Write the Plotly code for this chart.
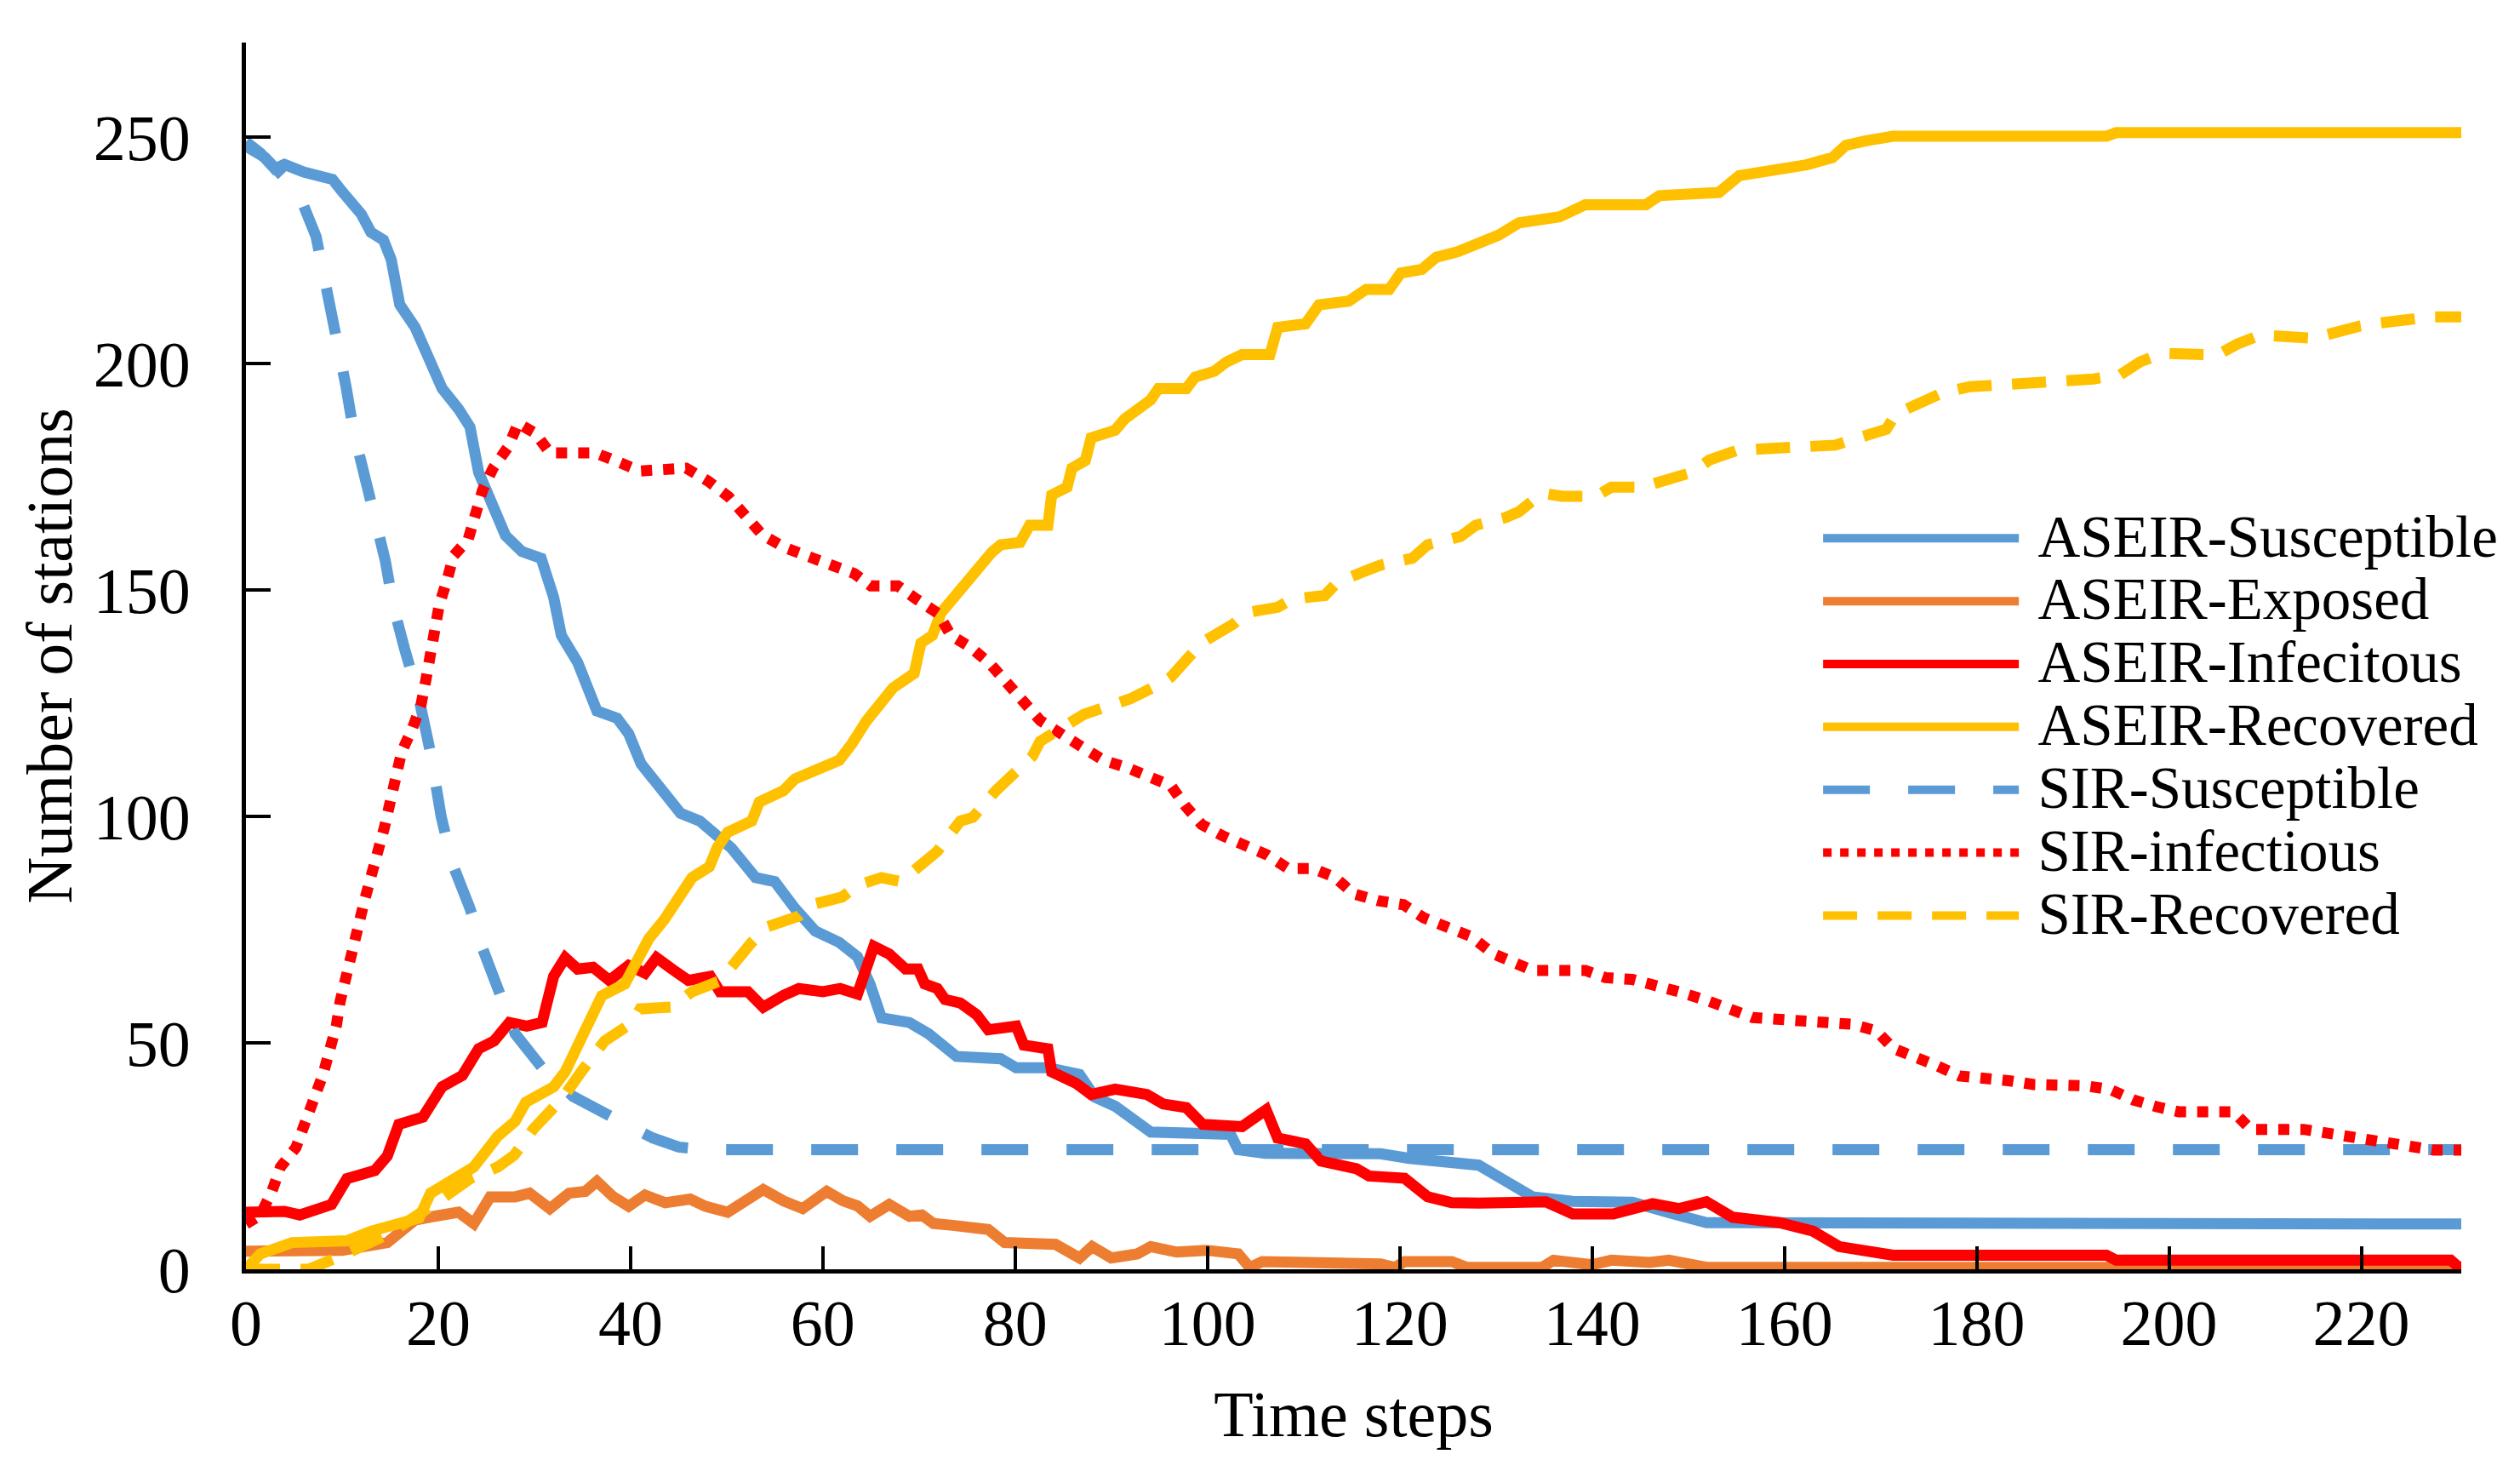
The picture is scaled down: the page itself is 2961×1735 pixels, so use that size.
import plotly.graph_objects as go

# time steps / values
aseir_s_t = [0, 1.5, 3, 4, 6, 9, 10, 12, 13, 14.3, 15.1, 16, 17.6, 19.2, 20.4, 22.1, 23.3, 24.2,
             25.4, 27, 28.7, 30.7, 32, 32.8, 34.5, 35.7, 36.5, 38.6, 39.8, 41.1, 43.1, 45.2, 47.2,
             48.5, 50.5, 53, 55, 57.1, 59.2, 61.7, 63.6, 64.9, 66.1, 69, 71, 73.9, 78.5, 80.1,
             83.4, 86.7, 88.3, 90.4, 92.5, 94.1, 102.4, 103.2, 106, 110, 118, 121, 124, 128.2,
             131, 133.8, 138, 144.2, 148, 151.9, 230.4]
aseir_s_v = [249, 246.5, 243, 244, 242.3, 240.7, 238, 233, 229, 227.3, 223, 213, 208, 200, 194.5,
             190, 186, 176, 169.4, 162, 158.5, 157, 148.4, 140, 134, 127.5, 123.3, 121.7, 118.3,
             111.6, 106.6, 100.7, 99, 96.5, 93, 86.5, 85.6, 79.7, 74.7, 72.2, 69, 63, 55.5, 54.5,
             52, 47, 46.5, 44.5, 44.5, 43, 38, 36, 32.7, 30.3, 29.8, 26.4, 25.6, 25.5, 25.5, 24.5,
             24, 23, 19.5, 16, 15, 14.8, 12.5, 10.3, 10]

aseir_e_t = [0, 10, 14.7, 17.6, 19.6, 22.1, 23.7, 25.4, 28, 29.5, 31.6, 33.6, 35.3, 36.5, 38.2,
             39.8, 41.5, 43.6, 46.2, 47.8, 50.1, 51.8, 53.8, 55.9, 57.9, 60.4, 62.1, 63.6, 64.9,
             66.9, 69, 70.3, 71.5, 73.5, 77.2, 78.9, 84.2, 86.7, 88, 90, 92.7, 94.1, 96.8, 99.9,
             103.2, 104.4, 105.7, 118, 119.5, 120.5, 125.4, 127, 134.8, 136, 140, 142, 146, 148,
             152, 230.4]
aseir_e_v = [4, 4.2, 5.9, 10.9, 11.7, 12.6, 10.1, 16, 16, 16.8, 13.4, 16.8, 17.2, 19.4, 16, 13.9,
             16.4, 14.7, 15.5, 13.9, 12.6, 15.1, 17.6, 15.1, 13.4, 17.2, 15.1, 14, 11.7, 14.3,
             11.7, 12, 10.1, 9.7, 8.8, 5.9, 5.5, 2.5, 5, 2.5, 3.4, 5, 3.8, 4.2, 3.4, 0.4, 1.7,
             1.2, 0.4, 1.7, 1.7, 0.4, 0.4, 2, 1, 2, 1.5, 2, 0.4, 0.4]

aseir_i_t = [0, 4, 5.6, 8.9, 10.5, 13.4, 14.7, 15.9, 18.4, 19.6, 20.4, 22.5, 24.2, 25.8, 27.4,
             29.2, 30.8, 32, 33.2, 34.5, 36.1, 37.8, 39.8, 41.5, 42.7, 44.3, 46, 48.3, 49.3, 52.2,
             53.8, 55.9, 57.5, 60, 61.8, 63.6, 65.3, 66.9, 68.6, 69.9, 70.6, 71.9, 72.7, 74.3, 76,
             77.2, 80.1, 80.9, 83.4, 83.8, 86.3, 87.9, 90.4, 93.7, 95.4, 97.8, 99.5, 103.6, 106.1,
             107.3, 110.2, 111.8, 115.5, 116.8, 120.5, 122.9, 125.4, 128.2, 135.2, 138, 142.2,
             146.3, 149, 151.9, 154.6, 159.5, 163, 165.7, 168.5, 171.3, 193.5, 194.5, 229.3, 230.4]
aseir_i_v = [12.6, 12.8, 12, 14.3, 20, 21.8, 25, 32, 33.6, 37.8, 40.3, 42.8, 48.7, 50.4, 54.5,
             53.7, 54.5, 64.7, 68.8, 66.3, 66.7, 63.8, 67.1, 65.4, 68.8, 66.3, 63.8, 64.7, 61.3,
             61.3, 57.9, 60.5, 62, 61.3, 62, 60.8, 71.3, 69.6, 66.3, 66.3, 63, 62, 59.6, 58.8,
             56.2, 52.9, 53.7, 49.5, 48.7, 43.6, 41.1, 38.6, 39.8, 38.6, 36.5, 35.7, 32, 31.5,
             35.2, 29, 27.7, 23.9, 22.2, 20.6, 20.1, 16, 14.7, 14.6, 14.9, 12.2, 12.2, 14.5,
             13.4, 14.9, 11.5, 10.3, 8.4, 5, 3.9, 3.1, 3.1, 2, 2, 0]

aseir_r_t = [0, 1.5, 4.8, 10.5, 13, 15.9, 18, 19.2, 21.3, 23.7, 26.2, 28, 29.1, 32, 33.2, 34.5,
             36.1, 37, 39.4, 40.6, 41.9, 43.5, 45.2, 46.4, 48.2, 49, 50.1, 52.6, 53.4, 55.9, 57.1,
             59.6, 61.7, 63, 64.5, 67.3, 69.5, 70.2, 71.4, 72.3, 73.9, 75.6, 77.6, 78.5, 80.5,
             81.5, 83.4, 83.8, 85.4, 85.9, 87.3, 87.9, 90.4, 91.4, 92.9, 94.1, 94.9, 97.8, 98.7,
             100.7, 102, 103.6, 106.5, 107.3, 110.2, 111.6, 114.7, 116.5, 118.9, 120.1, 122.3,
             123.8, 126, 128.2, 130.3, 132.4, 136.6, 139.3, 145.6, 147, 153.2, 155.3, 158.8,
             162.3, 165, 166.4, 168.5, 171.3, 193.5, 194.5, 230.4]
aseir_r_v = [0, 3.4, 5.9, 6.3, 8.4, 10.1, 11.3, 16.8, 19.4, 22.6, 29.4, 32.7, 36.9, 40.3, 43.6,
             49.5, 56.2, 60.4, 63, 68, 73, 77.2, 83.1, 86.5, 88.9, 93.1, 96.5, 99, 103.2, 105.7,
             108.3, 110.8, 112.4, 116, 121, 128.4, 131.6, 138.3, 140, 145, 149.2, 153.4, 158.4,
             160, 160.5, 164.3, 164.3, 171, 172.7, 176.9, 178.6, 183.6, 185.3, 187.8, 190.3, 192,
             194.5, 194.5, 197, 198.3, 200.4, 202, 202, 208, 208.8, 213, 213.8, 216.4, 216.4,
             220, 220.8, 223.5, 224.7, 226.5, 228.4, 231.1, 232.4, 235.1, 235.1, 237.1, 237.8,
             241.5, 242.5, 243.9, 245.5, 248.2, 249.2, 250.2, 250.2, 251, 251]

sir_s_t = [0, 2, 4, 5.6, 7.3, 8.7, 9.5, 10.4, 11.2, 12.4, 13.4, 14.5, 15.3, 16.5, 18, 19.2, 20.3,
           21.5, 23.3, 24.6, 26.2, 28, 30.8, 34, 38.1, 42.3, 45, 48, 230.4]
sir_s_v = [248, 245.5, 241, 237, 228, 214, 204.6, 195, 185, 175.6, 166, 156.4, 146.7, 137, 126,
           114, 100, 89.4, 79.7, 70.9, 61.3, 52, 44.5, 38.2, 33.6, 29, 27, 26.4, 26.4]

sir_i_t = [0, 1.5, 2.7, 3.6, 5.2, 6.2, 7.1, 8, 8.7, 9.4, 9.8, 10.5, 11.1, 11.7, 12.3, 13.1, 13.9,
           14.4, 15, 15.5, 16.2, 17.3, 18.2, 18.7, 19.2, 19.6, 20.1, 20.9, 21.6, 23.1, 23.8, 24.6,
           25.7, 27.3, 28.3, 30.1, 31.6, 36.3, 38.6, 41, 45.8, 48.1, 50.2, 52, 53.7, 56, 58.4,
           60.8, 63.3, 65, 67.8, 69.8, 72, 73.3, 75.4, 77.4, 78.9, 80.9, 82.6, 86.9, 89.2, 91.6,
           93.9, 96.2, 97.7, 99.4, 101.6, 103.9, 106.2, 108.4, 111, 113.3, 115.2, 117.7, 120.4,
           122.5, 124.9, 127.4, 129.7, 133.8, 139.3, 141.4, 144.2, 146.7, 149, 151.9, 154.5,
           156.7, 167.1, 169.6, 171.3, 173.8, 175.8, 178.2, 181, 183.5, 185.9, 191.4, 193.9,
           196.3, 198.7, 201, 206.7, 208.5, 214, 216.5, 218.9, 221.3, 224, 227.6, 230.4]
sir_i_v = [10, 12, 17.2, 22.6, 26.9, 32, 37.8, 42.9, 48.3, 53.8, 59.2, 64.7, 70.5, 75.9, 81.2,
           86.7, 92.1, 97.6, 103.2, 108.8, 114.3, 119.4, 124.6, 130, 135.8, 141.2, 146.7, 152.1,
           157.6, 161.1, 166.7, 172, 176.9, 181.7, 186.8, 184.6, 180.3, 180.3, 178.4, 176.3,
           176.9, 174, 170.6, 166.2, 162.2, 159.4, 157.4, 155.5, 153.6, 150.9, 150.9, 147.9,
           144.8, 140, 137.3, 133.7, 129.9, 125.7, 121.2, 115.4, 112.4, 110.8, 109.1, 106.8,
           102.3, 98.2, 95.7, 93.3, 91.5, 88.5, 88.5, 86.5, 82.9, 81.4, 80.5, 77.6, 75.4, 73.5,
           69.7, 66, 66, 64.4, 64, 62.9, 61.3, 59.4, 57.1, 55.6, 54.1, 52.6, 48.8, 46.9, 45,
           42.7, 42.4, 41.6, 40.8, 40.5, 39.7, 37.4, 35.9, 34.8, 34.8, 30.9, 30.9, 30, 28.9,
           28.2, 27, 26.3, 26.3]

sir_r_t = [0, 6.5, 10, 15, 20, 23.3, 26.2, 27.9, 29.9, 33, 35, 37.3, 40.2, 41, 44.3, 46.4, 49.3,
           50.5, 52.6, 54.2, 57.5, 58.8, 62, 63.6, 66.1, 68.1, 71, 71.9, 74.3, 75.6, 78, 79.3,
           81.8, 82.6, 85.5, 87.1, 90, 92, 95.3, 96.2, 98.7, 99.9, 102.7, 104, 107.3, 108.8,
           112.2, 113.5, 116.4, 118, 121.3, 122.9, 126.3, 127.9, 131, 132.4, 134.8, 136.9, 140.4,
           142, 145.2, 147.3, 150.4, 152.2, 155, 157, 165.3, 167.5, 170.6, 171.6, 174, 176.5,
           179.3, 184.5, 189.7, 192.1, 194.9, 197, 199.4, 205, 207.1, 209.5, 215, 217.2, 219.9,
           222, 225.1, 227.2, 230.4]
sir_r_v = [0, 0, 3, 8, 15, 20, 22.6, 25.2, 31, 38, 44, 50.4, 54.5, 57.5, 57.9, 61.3, 63.7, 67,
           72.2, 75.6, 78, 80.5, 82.2, 84.8, 86.5, 85.6, 90.6, 92.3, 99, 99.8, 105.7, 108.3,
           113.3, 116.6, 120, 122.5, 124.6, 126, 129.5, 130.8, 136.7, 139, 142.5, 145, 146.2,
           148, 148.8, 151.7, 154.2, 155.5, 157, 160, 161.8, 164.3, 166, 167.3, 171.4, 170.7,
           170.7, 172.7, 172.7, 174, 176, 178.7, 180.8, 181.1, 182, 183.5, 185.5, 188.9, 191.5,
           193.6, 194.9, 195.5, 196.2, 196.6, 197.5, 200.4, 202.3, 201.9, 204.3, 206.3, 205.6,
           207, 208.3, 209, 209.6, 210.3, 210.3]

x_ticks = [0, 20, 40, 60, 80, 100, 120, 140, 160, 180, 200, 220]
y_ticks = [0, 50, 100, 150, 200, 250]

BLUE = "#5B9BD5"
ORANGE = "#ED7D31"
RED = "#FF0000"
YELLOW = "#FFC000"
LW = 13

series = [
    ("ASEIR-Susceptible", aseir_s_t, aseir_s_v, BLUE, "solid"),
    ("ASEIR-Exposed", aseir_e_t, aseir_e_v, ORANGE, "solid"),
    ("ASEIR-Infecitous", aseir_i_t, aseir_i_v, RED, "solid"),
    ("ASEIR-Recovered", aseir_r_t, aseir_r_v, YELLOW, "solid"),
    ("SIR-Susceptible", sir_s_t, sir_s_v, BLUE, "55px,45px"),
    ("SIR-infectious", sir_i_t, sir_i_v, RED, "dot"),
    ("SIR-Recovered", sir_r_t, sir_r_v, YELLOW, "40px,24px"),
]

fig = go.Figure()
for name, t, v, color, dash in series:
    fig.add_trace(go.Scatter(
        x=t, y=v, mode="lines",
        # bigger text than the legend font, so rows stay tight like the original
        name='<span style="font-size:69px">&nbsp;' + name + "</span>",
        line=dict(color=color, width=LW, dash=dash),
    ))

FONT = "Liberation Serif"
fig.update_layout(
    width=2961, height=1735,
    margin=dict(l=281, r=77, t=42, b=252),
    paper_bgcolor="white", plot_bgcolor="white",
    font=dict(family=FONT, size=76, color="black"),
    legend=dict(
        x=0.71, y=0.625, xanchor="left", yanchor="top",
        font=dict(family=FONT, size=54.5, color="black"),
        itemwidth=230, bgcolor="rgba(0,0,0,0)",
        tracegroupgap=0,
    ),
    xaxis=dict(
        range=[0, 230.4], tickvals=x_ticks, showgrid=False, zeroline=False,
        showline=True, linecolor="black", linewidth=5,
        ticks="inside", ticklen=27, tickwidth=4, tickcolor="black",
        ticklabelstandoff=-7,
        title=dict(text="Time steps", font=dict(size=76), standoff=40),
    ),
    yaxis=dict(
        range=[0, 270.9], tickvals=y_ticks, showgrid=False, zeroline=False,
        showline=True, linecolor="black", linewidth=5,
        ticks="inside", ticklen=29, tickwidth=4, tickcolor="black",
        ticklabelstandoff=45,
        title=dict(text="Number of stations", font=dict(size=76), standoff=2),
    ),
)

fig.write_html("out.html")
